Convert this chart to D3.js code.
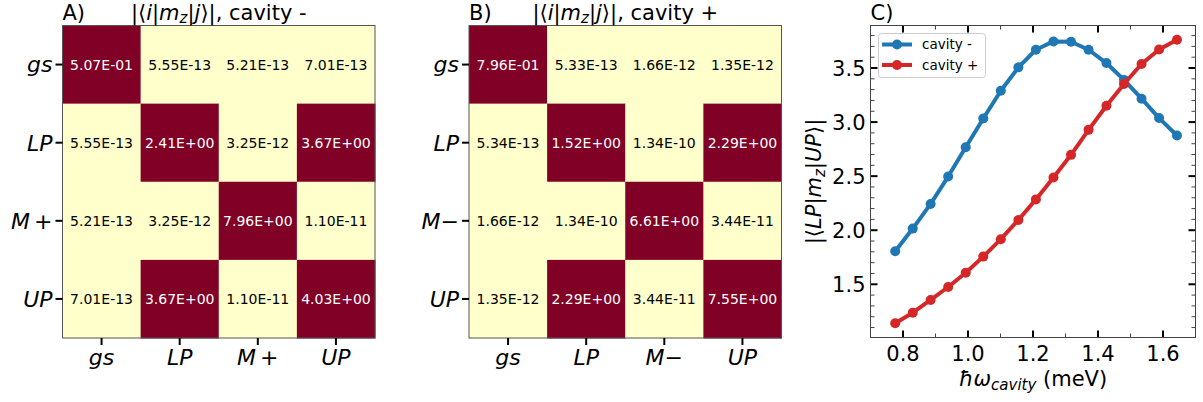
<!DOCTYPE html>
<html>
<head>
<meta charset="utf-8">
<script src="https://cdn.jsdelivr.net/npm/d3@7"></script>
<style>
  body { margin: 0; background: #fff; }
  svg { font-family: "DejaVu Sans", sans-serif; }
</style>
</head>
<body>
<svg id="fig" width="1203" height="402"></svg>
<script>
// heatmap data
const statesA = ["gs", "LP", "M+", "UP"];
const statesB = ["gs", "LP", "M-", "UP"];
const matA = [
  [5.07e-1, 5.55e-13, 5.21e-13, 7.01e-13],
  [5.55e-13, 2.41, 3.25e-12, 3.67],
  [5.21e-13, 3.25e-12, 7.96, 1.10e-11],
  [7.01e-13, 3.67, 1.10e-11, 4.03]
];
const matB = [
  [7.96e-1, 5.33e-13, 1.66e-12, 1.35e-12],
  [5.34e-13, 1.52, 1.34e-10, 2.29],
  [1.66e-12, 1.34e-10, 6.61, 3.44e-11],
  [1.35e-12, 2.29, 3.44e-11, 7.55]
];

// line data (panel C)
const omega = [0.776, 0.830, 0.885, 0.939, 0.993, 1.047, 1.101, 1.155, 1.209,
               1.263, 1.317, 1.371, 1.426, 1.480, 1.534, 1.588, 1.643];
const cavMinus = [1.806, 2.015, 2.243, 2.496, 2.768, 3.033, 3.290, 3.506, 3.669,
                  3.746, 3.743, 3.669, 3.546, 3.390, 3.216, 3.037, 2.876];
const cavPlus = [1.139, 1.237, 1.355, 1.475, 1.607, 1.756, 1.917, 2.095, 2.285,
                 2.487, 2.697, 2.928, 3.151, 3.352, 3.537, 3.672, 3.762];

const svg = d3.select("#fig");
const color = d3.scaleSequential(d3.interpolateYlOrRd).domain([0, 0.05]).clamp(true);

function sci(v) {
  let [m, e] = v.toExponential(2).split("e");
  let n = +e;
  return m + "E" + (n < 0 ? "-" : "+") + String(Math.abs(n)).padStart(2, "0");
}

// italic math label, e.g. "M+" -> italic M, upright operator
function stateLabel(sel, s) {
  if (s === "M+") {
    sel.append("tspan").attr("font-style", "italic").text("M");
    sel.append("tspan").attr("dx", 4).text("+");
  } else if (s === "M-") {
    sel.append("tspan").attr("font-style", "italic").text("M");
    sel.append("tspan").text("\u2212");
  } else {
    sel.append("tspan").attr("font-style", "italic").text(s);
  }
}

function heatmap(left, mat, states, letter, sign) {
  const top = 25.5, size = 312.5;
  const x = d3.scaleBand().domain(d3.range(4)).range([left, left + size]);
  const y = d3.scaleBand().domain(d3.range(4)).range([top, top + size]);
  const g = svg.append("g");

  const cells = [];
  mat.forEach((row, i) => row.forEach((v, j) => cells.push({ i, j, v })));

  g.selectAll("rect.cell").data(cells).join("rect")
    .attr("class", "cell")
    .attr("x", d => x(d.j)).attr("y", d => y(d.i))
    .attr("width", x.bandwidth() + 0.5).attr("height", y.bandwidth() + 0.5)
    .attr("fill", d => color(d.v));

  g.selectAll("text.val").data(cells).join("text")
    .attr("class", "val")
    .attr("x", d => x(d.j) + x.bandwidth() / 2)
    .attr("y", d => y(d.i) + y.bandwidth() / 2)
    .attr("text-anchor", "middle").attr("dy", "0.36em")
    .attr("font-size", 14)
    .attr("fill", d => d.v > 0.05 ? "#fff" : "#000")
    .text(d => sci(d.v));

  g.append("rect").attr("x", left).attr("y", top)
    .attr("width", size).attr("height", size)
    .attr("fill", "none").attr("stroke", "#555").attr("stroke-width", 1);

  // ticks + labels
  states.forEach((s, k) => {
    const cy = y(k) + y.bandwidth() / 2;
    const cx = x(k) + x.bandwidth() / 2;
    g.append("line").attr("x1", left - 7).attr("x2", left).attr("y1", cy).attr("y2", cy)
      .attr("stroke", "#000").attr("stroke-width", 2);
    g.append("line").attr("x1", cx).attr("x2", cx).attr("y1", top + size).attr("y2", top + size + 7)
      .attr("stroke", "#000").attr("stroke-width", 2);
    g.append("text").attr("x", left - 10).attr("y", cy).attr("dy", "0.36em")
      .attr("text-anchor", "end").attr("font-size", 22).call(stateLabel, s);
    g.append("text").attr("x", cx).attr("y", top + size + 27)
      .attr("text-anchor", "middle").attr("font-size", 22).call(stateLabel, s);
  });

  g.append("text").attr("x", left).attr("y", 20).attr("font-size", 21).text(letter + ")");
  const t = g.append("text").attr("x", left + size / 2).attr("y", 20)
    .attr("text-anchor", "middle").attr("font-size", 21);
  t.append("tspan").text("|\u27E8");
  t.append("tspan").attr("font-style", "italic").text("i");
  t.append("tspan").text("|");
  t.append("tspan").attr("font-style", "italic").text("m");
  t.append("tspan").attr("font-style", "italic").attr("font-size", 15).attr("dy", 3).text("z");
  t.append("tspan").attr("dy", -3).text("|");
  t.append("tspan").attr("font-style", "italic").text("j");
  t.append("tspan").text("\u27E9|, cavity " + sign);
}

heatmap(62.5, matA, statesA, "A", "-");
heatmap(469, matB, statesB, "B", "+");

// ---- panel C
const cl = 870.5, cr = 1195.5, ct = 25.5, cb = 337.5;
const allY = cavMinus.concat(cavPlus);
const [ymin, ymax] = d3.extent(allY);
const pad = (ymax - ymin) * 0.05;
const xs = d3.scaleLinear().domain([0.7, 1.7]).range([cl, cr]);
const ys = d3.scaleLinear().domain([ymin - pad, ymax + pad]).range([cb, ct]);
const gc = svg.append("g");

const xMaj = d3.ticks(0.7, 1.7, 5).filter(v => v > 0.7 && v < 1.7);
const xMin = d3.ticks(0.7, 1.7, 10).filter(v => !xMaj.some(m => Math.abs(m - v) < 1e-9));
const yMaj = d3.ticks(ys.domain()[0], ys.domain()[1], 6);
const yMin = d3.ticks(ys.domain()[0], ys.domain()[1], 29).filter(v => !yMaj.some(m => Math.abs(m - v) < 1e-9));

function tickLines(vals, len, w, col) {
  vals.forEach(v => {
    const px = xs(v);
    gc.append("line").attr("x1", px).attr("x2", px).attr("y1", cb).attr("y2", cb - len).attr("stroke", col).attr("stroke-width", w);
    gc.append("line").attr("x1", px).attr("x2", px).attr("y1", ct).attr("y2", ct + len).attr("stroke", col).attr("stroke-width", w);
  });
}
function tickLinesY(vals, len, w, col) {
  vals.forEach(v => {
    const py = ys(v);
    gc.append("line").attr("x1", cl).attr("x2", cl + len).attr("y1", py).attr("y2", py).attr("stroke", col).attr("stroke-width", w);
    gc.append("line").attr("x1", cr).attr("x2", cr - len).attr("y1", py).attr("y2", py).attr("stroke", col).attr("stroke-width", w);
  });
}
tickLines(xMin, 4, 1, "#444");
tickLines(xMaj, 7, 2, "#000");
tickLinesY(yMin, 4, 1, "#444");
tickLinesY(yMaj, 7, 2, "#000");

gc.selectAll("text.xt").data(xMaj).join("text").attr("class", "xt")
  .attr("x", d => xs(d)).attr("y", cb + 23).attr("text-anchor", "middle")
  .attr("font-size", 21).text(d3.format(".1f"));
gc.selectAll("text.yt").data(yMaj).join("text").attr("class", "yt")
  .attr("x", cl - 5).attr("y", d => ys(d)).attr("dy", "0.36em").attr("text-anchor", "end")
  .attr("font-size", 21).text(d3.format(".1f"));

gc.append("rect").attr("x", cl).attr("y", ct).attr("width", cr - cl).attr("height", cb - ct)
  .attr("fill", "none").attr("stroke", "#444").attr("stroke-width", 1);

const series = [
  { name: "cavity -", vals: cavMinus, color: "#1f77b4" },
  { name: "cavity +", vals: cavPlus, color: "#d62728" }
];
const line = d3.line().x((d, i) => xs(omega[i])).y(d => ys(d));
series.forEach(s => {
  gc.append("path").attr("d", line(s.vals)).attr("fill", "none")
    .attr("stroke", s.color).attr("stroke-width", 4).attr("stroke-linejoin", "round");
  gc.selectAll(null).data(s.vals).join("circle")
    .attr("cx", (d, i) => xs(omega[i])).attr("cy", d => ys(d)).attr("r", 5)
    .attr("fill", s.color);
});

// legend
const lg = gc.append("g");
lg.append("rect").attr("x", 878.5).attr("y", 33.5).attr("width", 107).attr("height", 44)
  .attr("rx", 3).attr("fill", "#fff").attr("fill-opacity", 0.8).attr("stroke", "#ccc");
series.forEach((s, k) => {
  const yy = 44.5 + k * 20.5;
  lg.append("line").attr("x1", 882).attr("x2", 912).attr("y1", yy).attr("y2", yy)
    .attr("stroke", s.color).attr("stroke-width", 4);
  lg.append("circle").attr("cx", 897).attr("cy", yy).attr("r", 5).attr("fill", s.color);
  lg.append("text").attr("x", 922).attr("y", yy).attr("dy", "0.36em").attr("font-size", 13.5).text(s.name);
});

gc.append("text").attr("x", cl).attr("y", 20).attr("font-size", 21).text("C)");

// axis labels
const xl = gc.append("text").attr("x", (cl + cr) / 2).attr("y", 386)
  .attr("text-anchor", "middle").attr("font-size", 21);
xl.append("tspan").attr("font-style", "italic").text("\u0127\u03C9");
xl.append("tspan").attr("font-style", "italic").attr("font-size", 15).attr("dy", 4).text("cavity");
xl.append("tspan").attr("dy", -4).text(" (meV)");

const yl = gc.append("text").attr("transform", "translate(821," + ((ct + cb) / 2) + ") rotate(-90)")
  .attr("text-anchor", "middle").attr("font-size", 21);
yl.append("tspan").text("|\u27E8");
yl.append("tspan").attr("font-style", "italic").text("LP");
yl.append("tspan").text("|");
yl.append("tspan").attr("font-style", "italic").text("m");
yl.append("tspan").attr("font-style", "italic").attr("font-size", 15).attr("dy", 4).text("z");
yl.append("tspan").attr("dy", -4).text("|");
yl.append("tspan").attr("font-style", "italic").text("UP");
yl.append("tspan").text("\u27E9|");
</script>
</body>
</html>
